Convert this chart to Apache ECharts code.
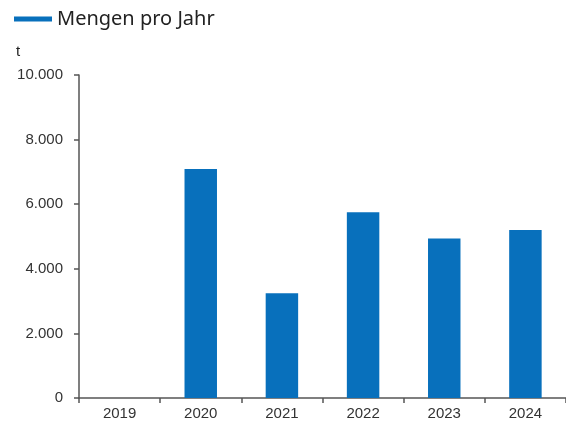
<!DOCTYPE html>
<html>
<head>
<meta charset="utf-8">
<script src="https://cdn.jsdelivr.net/npm/echarts@6/dist/echarts.min.js"></script>
<style>
  html, body { margin: 0; padding: 0; background: #fff; }
  #chart { width: 566px; height: 423px; }
</style>
</head>
<body>
<div id="chart"></div>
<script>
var years = ['2019', '2020', '2021', '2022', '2023', '2024'];
var mengen = [0, 7090, 3240, 5750, 4940, 5200];//Mengen pro Jahr in t
var seriesName = 'Mengen pro Jahr';
var unit = 't';
var yMax = 10000;
var yStep = 2000;

var axisColor = '#555';
var labelColor = '#333';
var barColor = '#0870bc';

function fmt(v){//1000er Trennzeichen mit Punkt
  return String(v).replace(/\B(?=(\d{3})+(?!\d))/g, '.');
}

var chart = echarts.init(document.getElementById('chart'));

var option = {
  animation: false,
  title: {
    text: unit,
    left: 11,
    top: 39,
    textStyle: { fontFamily: 'Liberation Sans', fontSize: 15, fontWeight: 'normal', color: '#222' }
  },
  legend: {
    data: [seriesName],
    left: 9,
    top: 4,
    icon: 'rect',
    itemWidth: 38,
    itemHeight: 5,
    itemGap: 4,
    textStyle: { fontFamily: 'Noto Sans', fontSize: 20, color: '#222' }
  },
  grid: { left: 79, right: 0, top: 75, bottom: 25 },
  xAxis: {
    type: 'category',
    data: years,
    axisLine: { lineStyle: { color: axisColor, width: 1.5 } },
    axisTick: { show: true, length: 5, lineStyle: { color: axisColor, width: 1.5 } },
    axisLabel: { margin: 8, fontFamily: 'Liberation Sans', fontSize: 15, color: labelColor }
  },
  yAxis: {
    type: 'value',
    min: 0,
    max: yMax,
    interval: yStep,
    axisLine: { show: true, lineStyle: { color: axisColor, width: 1.5 } },
    axisTick: { show: true, length: 5, lineStyle: { color: axisColor, width: 1.5 } },
    splitLine: { show: false },
    axisLabel: {
      margin: 16,
      fontFamily: 'Liberation Sans',
      fontSize: 15,
      color: labelColor,
      formatter: fmt
    }
  },
  series: [
    {
      name: seriesName,
      type: 'bar',
      data: mengen,
      barWidth: '40%',
      itemStyle: { color: barColor }
    }
  ]
};
chart.setOption(option);
</script>
</body>
</html>
